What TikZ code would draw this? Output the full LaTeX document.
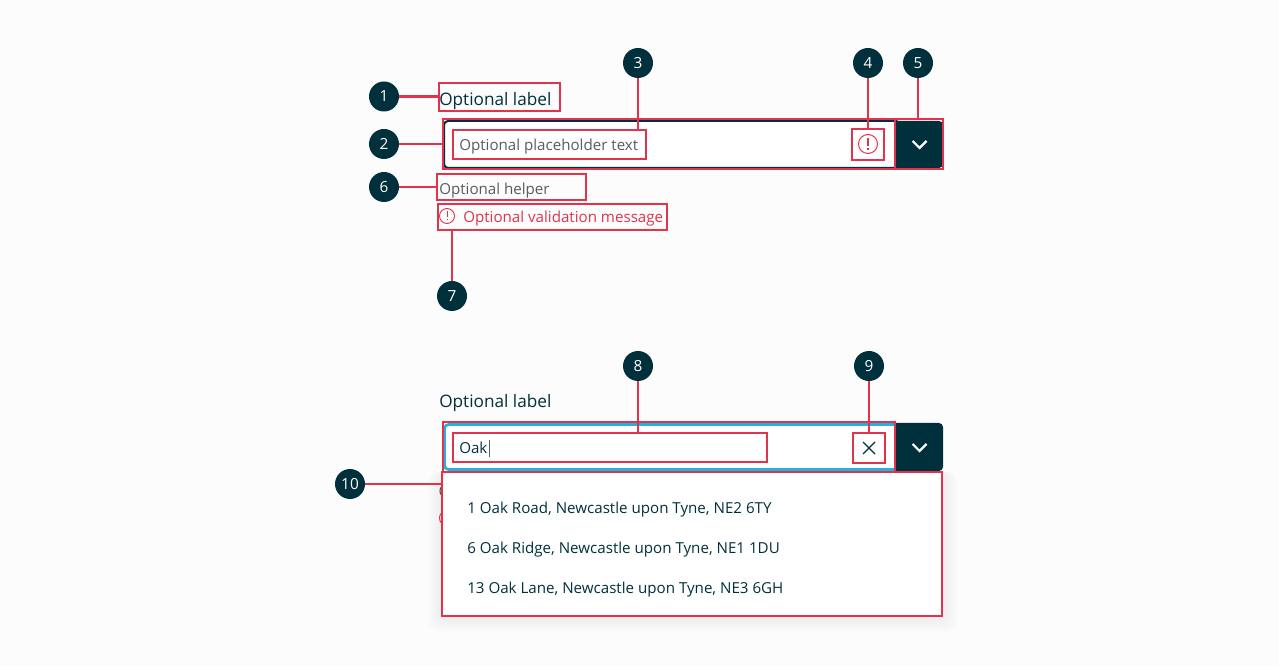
\documentclass[tikz,border=0pt]{standalone}
\usepackage{fontspec}
\setmainfont{Open Sans}
\definecolor{inkdark}{HTML}{00303C}
\definecolor{marker}{HTML}{E2334C}
\definecolor{focusblue}{HTML}{1FB4E0}
\definecolor{hintgrey}{HTML}{565C60}
\definecolor{pagebg}{HTML}{FCFCFC}
\tikzset{
    pxsize/.style 2 args={minimum width=#1*0.75pt, minimum height=#2*0.75pt},
    badge/.style={circle, fill=inkdark, text=white, inner sep=0pt, outer sep=0pt, minimum size=22.5pt, font=\fontsize{11.5}{13}\selectfont},
    markbox/.style={draw=marker, line width=1.6pt, inner sep=0pt, outer sep=0pt},
    markline/.style={draw=marker, line width=1.6pt},
    uitext/.style={anchor=base west, inner sep=0pt, font=\fontsize{11.35}{13}\selectfont},
    labeltext/.style={uitext, text=inkdark, font=\fontsize{12.9}{15}\selectfont},
    chevron/.style={draw=white, line width=1.6pt},
}
\begin{document}
\begin{tikzpicture}[x=0.75pt,y=-0.75pt]
    \useasboundingbox (0,0) rectangle (1279,666);
    \fill[pagebg] (0,0) rectangle (1279,666);

    %% top field
    \node[labeltext] (toplabel) at (439,106) {Optional label};
    \node[pxsize={456}{47}, draw=inkdark, line width=1.5pt, fill=white, rounded corners=3pt, inner sep=0pt] (topfield) at (672,144.5) {};
    \fill[inkdark] (894.5,121) [rounded corners=3pt] -- (943,121) -- (943,168) [sharp corners] -- (894.5,168) -- cycle;
    \coordinate (topchev) at (919.5,145);
    \draw[chevron] ([shift={(-7,-4)}]topchev) -- ([shift={(0,3)}]topchev) -- ([shift={(7,-4)}]topchev);
    \node[uitext, text=hintgrey] (topplaceholder) at (459,151) {Optional placeholder text};
    \node[circle, draw=marker, line width=0.75pt, pxsize={19}{19}, inner sep=0pt] (topalert) at (868,144) {};
    \draw[marker, line width=0.9pt] (868,138) -- (868,146) (868,148.5) -- (868,150);
    \node[uitext, text=hintgrey] (helper) at (439,195) {Optional helper};
    \node[circle, draw=marker, line width=0.7pt, pxsize={15}{15}, inner sep=0pt] (valicon) at (447,216) {};
    \draw[marker, line width=0.75pt] (447,211) -- (447,217) (447,219) -- (447,220.5);
    \node[uitext, text=marker] (valtext) at (463,223) {Optional validation message};

    %% bottom field
    \node[labeltext] (botlabel) at (439,408) {Optional label};
    \node[pxsize={453}{45}, draw=focusblue, line width=2pt, fill=white, rounded corners=3pt, inner sep=0pt] (botfield) at (671,447) {};
    \fill[inkdark] (894.5,423) [rounded corners=3pt] -- (943,423) -- (943,471) [sharp corners] -- (894.5,471) -- cycle;
    \coordinate (botchev) at (919.5,448);
    \draw[chevron] ([shift={(-7,-4)}]botchev) -- ([shift={(0,3)}]botchev) -- ([shift={(7,-4)}]botchev);
    \node[uitext, text=inkdark] (typed) at (459,454) {Oak};
    \draw[hintgrey, line width=0.7pt] (489,440) -- (489,457);
    \draw[inkdark, line width=0.9pt] (863,442) -- (875,454) (875,442) -- (863,454);

    %% bits of the covered helper text
    \draw[hintgrey, line width=0.8pt] (446,491) ellipse [x radius=6, y radius=6.5];
    \draw[marker, line width=0.7pt] (447,518) circle [radius=7.5];

    %% dropdown
    \foreach \s in {14,12,...,2}{
    \fill[black, opacity=0.006, rounded corners=6pt] (442-\s,472) rectangle (943+\s,616+2+\s);
    }
    \fill[white] (442,472) rectangle (943,616);
    \foreach \y/\txt/\n in {514/1 Oak Road{,} Newcastle upon Tyne{,} NE2 6TY/a,554/6 Oak Ridge{,} Newcastle upon Tyne{,} NE1 1DU/b,594/13 Oak Lane{,} Newcastle upon Tyne{,} NE3 6GH/c}{
    \node[uitext, text=inkdark] (option\n) at (467,\y) {\txt};
    }

    %% marker boxes
    \node[markbox, pxsize={121}{28}] (box1) at (499.5,97) {};
    \node[markbox, pxsize={452}{50}] (box2) at (669,144) {};
    \node[markbox, pxsize={193}{29}] (box3) at (549.5,144.5) {};
    \node[markbox, pxsize={32}{31}] (box4) at (868,144.5) {};
    \node[markbox, pxsize={48}{50}] (box5) at (919,144) {};
    \node[markbox, pxsize={149}{26}] (box6) at (511.5,187) {};
    \node[markbox, pxsize={229}{26}] (box7) at (552.5,217) {};
    \node[markbox, pxsize={452}{50}] (box8a) at (669,447) {};
    \node[markbox, pxsize={314}{29}] (box8) at (610,447.5) {};
    \node[markbox, pxsize={32}{30}] (box9) at (869,448) {};
    \node[markbox, pxsize={500}{144}] (box10) at (692,544) {};

    %% badges
    \foreach \n/\x/\y in {1/384/96.5,2/384/144,3/638/63,4/868/63,5/918/63,6/384/187,7/452/296,8/638/366,9/869/366,10/350/484}{
    \node[badge] (badge\n) at (\x,\y) {\n};
    }

    %% connectors
    \draw[markline] (badge1) -- (badge1 -| box1.west);
    \draw[markline] (badge2) -- (badge2 -| box2.west);
    \draw[markline] (badge3) -- (badge3 |- box3.north);
    \draw[markline] (badge4) -- (badge4 |- box4.north);
    \draw[markline] (badge5) -- (badge5 |- box5.north);
    \draw[markline] (badge6) -- (badge6 -| box6.west);
    \draw[markline] (badge7) -- (badge7 |- box7.south);
    \draw[markline] (badge8) -- (badge8 |- box8.north);
    \draw[markline] (badge9) -- (badge9 |- box9.north);
    \draw[markline] (badge10) -- (badge10 -| box10.west);
\end{tikzpicture}
\end{document}
